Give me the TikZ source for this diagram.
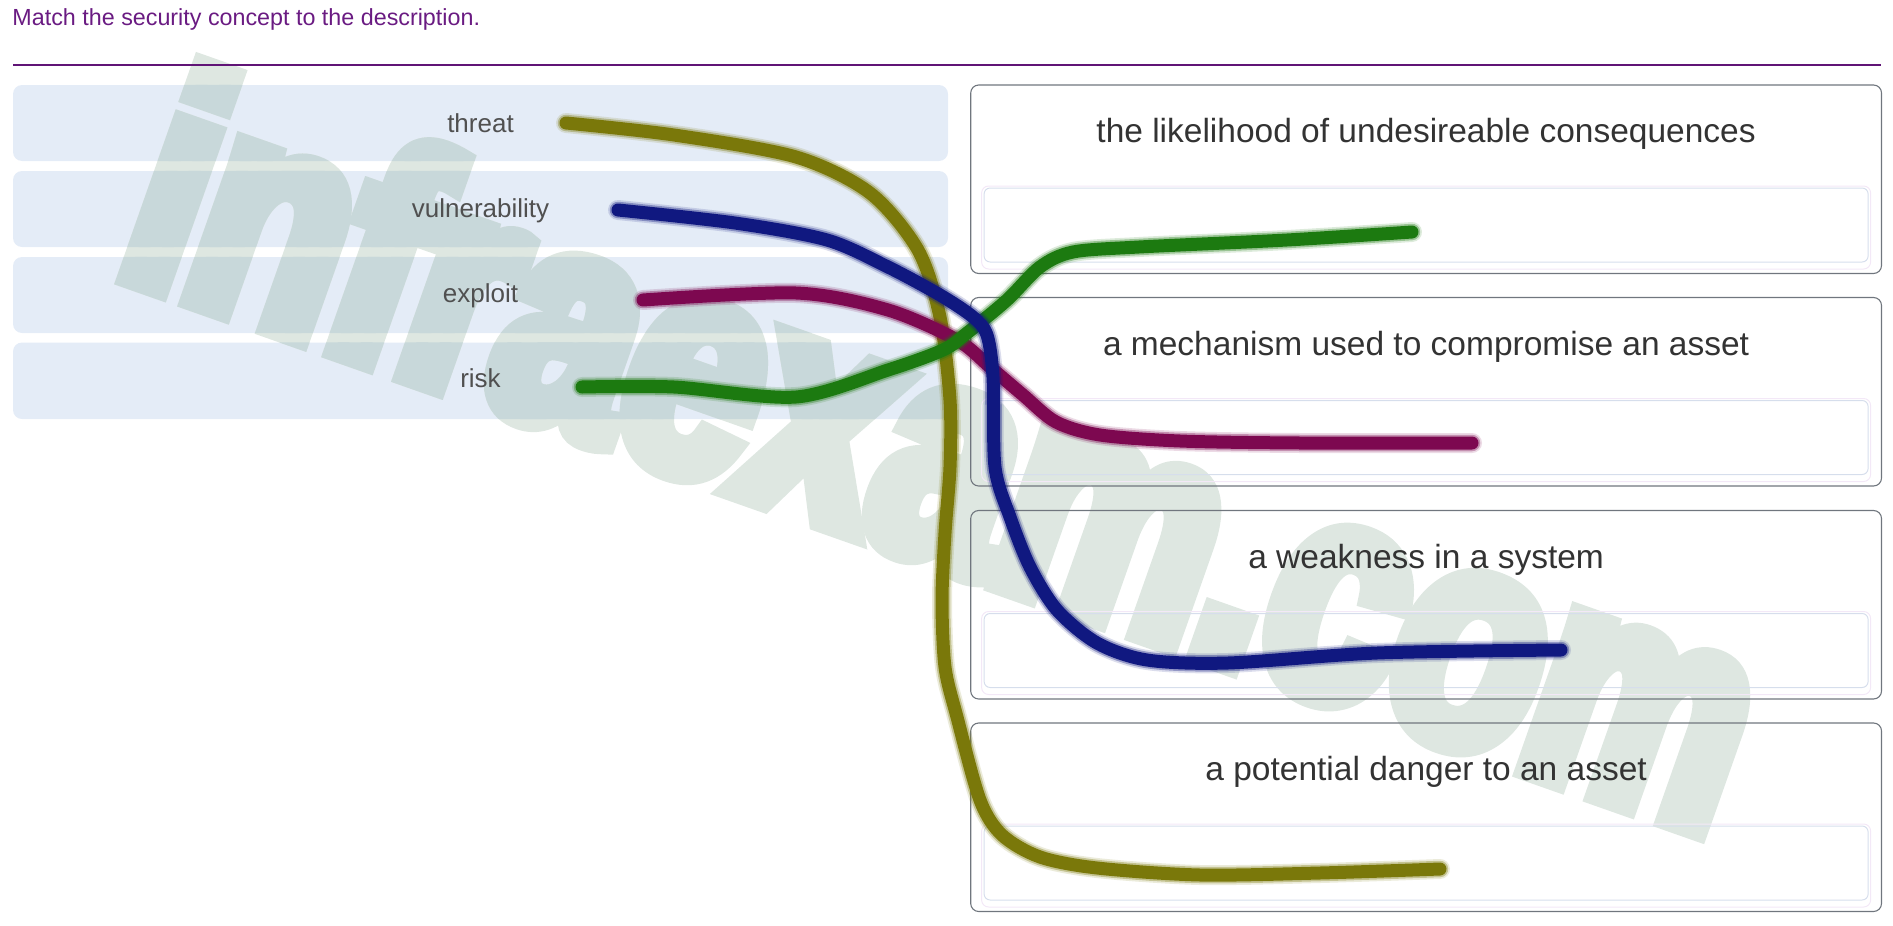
\documentclass[tikz,border=0pt]{standalone}
\usepackage{fontspec}
\setmainfont{Liberation Sans}
\newfontfamily\wmfont[FakeStretch=0.775,FakeBold=7]{Liberation Sans Bold}
\definecolor{titlepurple}{RGB}{106,27,130}
\definecolor{rulepurple}{RGB}{96,20,118}
\definecolor{conceptfill}{RGB}{228,236,247}
\definecolor{conceptgray}{RGB}{80,80,80}
\definecolor{answergray}{RGB}{51,51,51}
\definecolor{boxline}{RGB}{112,118,126}
\definecolor{slotline}{RGB}{214,222,236}
\definecolor{slotpink}{RGB}{243,232,247}
\definecolor{wmlight}{RGB}{222,231,225}
\definecolor{wmdark}{RGB}{200,216,218}
\definecolor{olivepen}{RGB}{122,120,10}
\definecolor{navypen}{RGB}{16,24,128}
\definecolor{maroonpen}{RGB}{125,8,80}
\definecolor{greenpen}{RGB}{28,122,16}

\begin{document}
\begin{tikzpicture}[x=1pt,y=-1pt,every node/.style={inner sep=0pt},
    concept/.style={anchor=base,text=conceptgray,font=\fontsize{26}{30}\selectfont},
    answer/.style={anchor=base,text=answergray,font=\fontsize{33.5}{40}\selectfont},
    conceptbox/.style={fill=conceptfill,rounded corners=9pt,minimum width=935pt,minimum height=76pt},
    answerbox/.style={draw=boxline,line width=1.1pt,rounded corners=8pt,minimum width=910.8pt,minimum height=188.5pt},
    slot/.style={draw=slotline,line width=1pt,rounded corners=6pt,minimum width=884pt,minimum height=74pt},
    slotedge/.style={draw=slotpink,line width=1pt,rounded corners=7pt,minimum width=889pt,minimum height=83pt},
    watermark/.style={anchor=base west,rotate=-19.4,font=\wmfont\fontsize{310}{310}\selectfont},
    pen/.style={draw=#1,line cap=round,line join=round}]
  \useasboundingbox (0,0) rectangle (1893,926);

  % Concept boxes
  \node[conceptbox] (c1) at (480.5,123) {};
  \node[conceptbox] (c2) at (480.5,209) {};
  \node[conceptbox] (c3) at (480.5,295) {};
  \node[conceptbox,minimum height=76.5pt] (c4) at (480.5,380.75) {};

  % Watermark
  \node[watermark,text=wmlight] (wm) at (112,272) {infraexam.com};
  \begin{scope}
    \clip[rounded corners=9pt] (c1.north west) rectangle (c1.south east)
      (c2.north west) rectangle (c2.south east)
      (c3.north west) rectangle (c3.south east)
      (c4.north west) rectangle (c4.south east);
    \node[watermark,text=wmdark] (wm-dark) at (112,272) {infraexam.com};
  \end{scope}

  % Heading
  \node[anchor=base west,text=titlepurple,font=\fontsize{23.3}{28}\selectfont] (title) at (12.3,25) {Match the security concept to the description.};
  \draw[rulepurple,line width=2pt] (13,64.5) -- (1881,64.5);

  % Answer boxes and slots
  \node[answerbox] (d1) at (1426.1,179.25) {};
  \node[answerbox] (d2) at (1426.1,391.75) {};
  \node[answerbox] (d3) at (1426.1,604.75) {};
  \node[answerbox] (d4) at (1426.1,817.25) {};
  \node[slotedge] (e1) at (1426.1,227.5) {};
  \node[slotedge] (e2) at (1426.1,440) {};
  \node[slotedge] (e3) at (1426.1,653) {};
  \node[slotedge] (e4) at (1426.1,865.5) {};
  \node[slot] (s1) at (1426.1,225) {};
  \node[slot] (s2) at (1426.1,437.5) {};
  \node[slot] (s3) at (1426.1,650.5) {};
  \node[slot] (s4) at (1426.1,863) {};

  % Labels
  \node[concept] (threat) at (480.5,132) {threat};
  \node[concept] (vuln) at (480.5,217) {vulnerability};
  \node[concept] (exploit) at (480.5,302) {exploit};
  \node[concept] (risk) at (480.5,387.5) {risk};
  \node[answer] (a1) at (1426.1,142.7) {the likelihood of undesireable consequences};
  \node[answer] (a2) at (1426.1,355.2) {a mechanism used to compromise an asset};
  \node[answer] (a3) at (1426.1,568.2) {a weakness in a system};
  \node[answer] (a4) at (1426.1,780.7) {a potential danger to an asset};

  % Pen strokes
  \coordinate (threat-a) at (566,123);
  \coordinate (threat-b) at (1440,869);
  \coordinate (vuln-a) at (618,210);
  \coordinate (vuln-b) at (1561,650);
  \coordinate (exploit-a) at (643,300);
  \coordinate (exploit-b) at (1472,443);
  \coordinate (risk-a) at (582,387);
  \coordinate (risk-b) at (1412,232);

  \foreach \w/\o in {20/0.15,16.5/0.35,13/1}
    \draw[pen=olivepen,line width=\w pt,draw opacity=\o] plot[smooth] coordinates {(threat-a) (674,135) (796,157) (870,193) (918,250) (940,317) (950,400) (950,467) (945,533) (942,600) (945,667) (957,717) (980,800) (1002,835) (1040,857) (1097,868) (1200,875) (1320,873) (threat-b)};
  \foreach \w/\o in {20/0.15,16.5/0.35,13/1}
    \draw[pen=maroonpen,line width=\w pt,draw opacity=\o] plot[smooth] coordinates {(exploit-a) (796,293) (888,310) (957,340) (990,367) (1023,395) (1056,422) (1100,435) (1180,441) (1300,443) (exploit-b)};
  \foreach \w/\o in {20/0.15,16.5/0.35,13/1}
    \draw[pen=greenpen,line width=\w pt,draw opacity=\o] plot[smooth] coordinates {(risk-a) (674,387) (796,397) (888,370) (943,350) (967,333) (1007,300) (1040,267) (1073,252) (1139,247) (1287,240) (risk-b)};
  \foreach \w/\o in {20/0.15,16.5/0.35,13/1}
    \draw[pen=navypen,line width=\w pt,draw opacity=\o] plot[smooth] coordinates {(vuln-a) (735,223) (827,240) (888,267) (940,295) (973,317) (987,335) (993,377) (995,467) (1010,517) (1030,567) (1057,610) (1097,643) (1147,660) (1228,663) (1377,653) (vuln-b)};

\end{tikzpicture}
\end{document}
